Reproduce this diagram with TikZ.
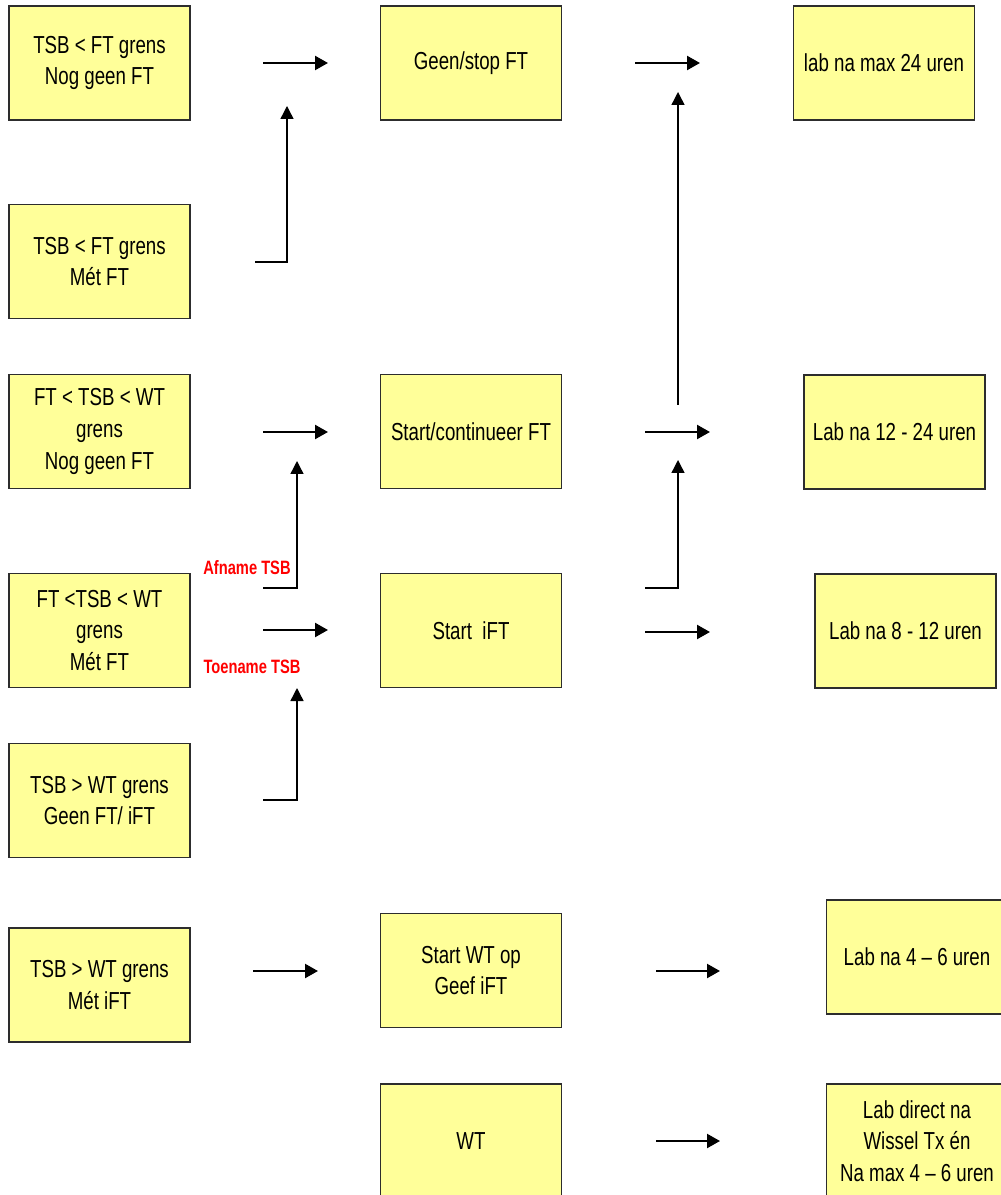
\documentclass[tikz,border=0pt]{standalone}
\usepackage{fontspec}
\newfontfamily\boxfont{Liberation Sans}[FakeStretch=0.76,Ligatures=TeX]
\usepackage{tikz}
\usetikzlibrary{arrows.meta}

\definecolor{boxyellow}{RGB}{255,255,153}
\definecolor{boxline}{RGB}{45,45,45}

\tikzset{
  box/.style={draw=boxline,line width=0.9pt,fill=boxyellow,shape=rectangle,
    minimum width=3.62cm,minimum height=2.28cm,align=center,inner sep=0pt,
    font=\boxfont\fontsize{14}{18}\selectfont},
  arr/.style={line width=1.3pt,-{Triangle[length=2.6mm,width=2.8mm]}},
  riser/.style={line width=0.8pt,-{Triangle[length=2.6mm,width=2.6mm]}},
  tsblabel/.style={text=red,font=\boxfont\fontsize{11}{13}\selectfont\bfseries}
}

\begin{document}
\begin{tikzpicture}[x=0.02cm,y=-0.02cm]
\useasboundingbox (0,0) rectangle (1000,1195);

\path (99.5,63)    node[box] (L1) {TSB < FT grens\\Nog geen FT};
\path (99.5,261.5) node[box] (L2) {TSB < FT grens\\Mét FT};
\path (99.5,431.5) node[box] (L3) {FT < TSB < WT\\grens\\Nog geen FT};
\path (99.5,630.5) node[box] (L4) {FT <TSB < WT\\grens\\Mét FT};
\path (99.5,800.5) node[box] (L5) {TSB > WT grens\\Geen FT/ iFT};
\path (99.5,985)   node[box] (L6) {TSB > WT grens\\Mét iFT};

\path (471,63)    node[box] (M1) {Geen/stop FT};
\path (471,431.5) node[box] (M2) {Start/continueer FT};
\path (471,630.5) node[box] (M3) {Start\ \ iFT};
\path (471,970.5) node[box] (M4) {Start WT op\\Geef iFT};
\path (471,1141)  node[box] (M5) {WT};

\path (884,63)    node[box] (R1) {lab na max 24 uren};
\path (894.5,432) node[box] (R2) {Lab na 12 - 24 uren};
\path (905.5,631) node[box] (R3) {Lab na 8 - 12 uren};
\path (917,957)   node[box] (R4) {Lab na 4 – 6 uren};
\path (917,1141)  node[box] (R5) {Lab direct na\\Wissel Tx én\\Na max 4 – 6 uren};

\path (247,568) node[tsblabel] (afname) {Afname TSB};
\path (252,667) node[tsblabel] (toename) {Toename TSB};

% arrow ends
\coordinate (a1s) at (263,63);   \coordinate (a1e) at (328,63);
\coordinate (a2s) at (635,63);   \coordinate (a2e) at (700,63);
\coordinate (a3s) at (263,432);  \coordinate (a3e) at (328,432);
\coordinate (a4s) at (645,432);  \coordinate (a4e) at (710,432);
\coordinate (a5s) at (263,630);  \coordinate (a5e) at (328,630);
\coordinate (a6s) at (645,632);  \coordinate (a6e) at (710,632);
\coordinate (a7s) at (253,971);  \coordinate (a7e) at (318,971);
\coordinate (a8s) at (656,971);  \coordinate (a8e) at (720,971);
\coordinate (a9s) at (656,1141); \coordinate (a9e) at (720,1141);

\draw[arr] (a1s) to (a1e);
\draw[arr] (a2s) to (a2e);
\draw[arr] (a3s) to (a3e);
\draw[arr] (a4s) to (a4e);
\draw[arr] (a5s) to (a5e);
\draw[arr] (a6s) to (a6e);
\draw[arr] (a7s) to (a7e);
\draw[arr] (a8s) to (a8e);
\draw[arr] (a9s) to (a9e);

% risers
\coordinate (r1s) at (255,262); \coordinate (r1e) at (287,106);
\coordinate (r2s) at (678,405); \coordinate (r2e) at (678,92);
\coordinate (r3s) at (645,588); \coordinate (r3e) at (678,460);
\coordinate (r4s) at (263,588); \coordinate (r4e) at (297,461);
\coordinate (r5s) at (263,800); \coordinate (r5e) at (297,688);

\draw[riser] (r1s) -| (r1e);
\draw[riser] (r2s) to (r2e);
\draw[riser] (r3s) -| (r3e);
\draw[riser] (r4s) -| (r4e);
\draw[riser] (r5s) -| (r5e);
\end{tikzpicture}
\end{document}
